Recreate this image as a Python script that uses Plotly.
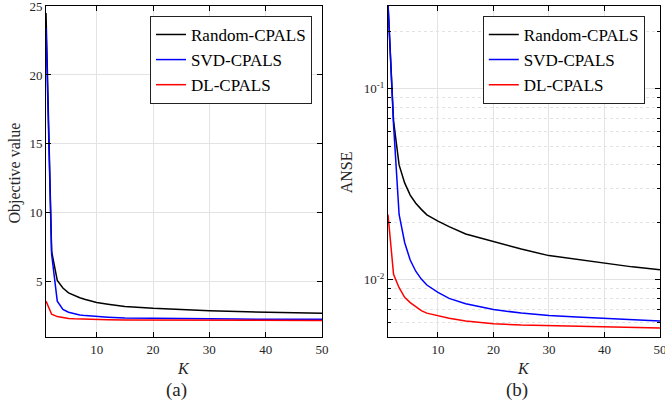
import plotly.graph_objects as go

# ---- data ----
K = [1, 2, 3, 4, 5, 6, 7, 8, 10, 12, 15, 20, 25, 30, 35, 40, 45, 50]

obj_random = [24.5, 7.2, 5.1, 4.55, 4.2, 4.0, 3.85, 3.72, 3.5, 3.38, 3.22, 3.08, 2.98, 2.9, 2.84, 2.79, 2.75, 2.72]
obj_svd    = [23.4, 7.0, 3.6, 3.0, 2.8, 2.68, 2.6, 2.55, 2.48, 2.44, 2.38, 2.35, 2.33, 2.31, 2.3, 2.29, 2.28, 2.28]
obj_dl     = [3.6, 2.65, 2.48, 2.4, 2.35, 2.32, 2.3, 2.28, 2.26, 2.25, 2.24, 2.23, 2.22, 2.22, 2.21, 2.21, 2.2, 2.2]

anse_random = [0.28, 0.068, 0.040, 0.0322, 0.0278, 0.0252, 0.0234, 0.0219, 0.0203, 0.0190, 0.0174, 0.0159, 0.0145, 0.0134, 0.0128, 0.0122, 0.0117, 0.0113]
anse_svd    = [0.28, 0.065, 0.022, 0.0157, 0.0127, 0.0111, 0.0101, 0.0094, 0.0086, 0.0080, 0.0075, 0.0070, 0.0067, 0.0065, 0.0064, 0.0063, 0.0062, 0.0061]
anse_dl     = [0.022, 0.0107, 0.0091, 0.0081, 0.0076, 0.0072, 0.0069, 0.0067, 0.0065, 0.0063, 0.0061, 0.0059, 0.0058, 0.00575, 0.0057, 0.00565, 0.0056, 0.0056]

names = ["Random-CPALS", "SVD-CPALS", "DL-CPALS"]
colors = ["#000000", "#0000ff", "#ff0000"]

x_ticks = [10, 20, 30, 40, 50]
obj_ticks = [5, 10, 15, 20, 25]
log_ticks = [0.01, 0.1]
log_ticktext = ["10<sup>-2</sup>", "10<sup>-1</sup>"]
log_minor = [0.006, 0.007, 0.008, 0.009, 0.02, 0.03, 0.04, 0.05, 0.06, 0.07, 0.08, 0.09, 0.2]

FONT = "Times New Roman, Liberation Serif, serif"
GRID = "#e3e3e3"
TICKC = "#262626"

fig = go.Figure()
for ys, nm, c in zip([obj_random, obj_svd, obj_dl], names, colors):
    fig.add_trace(go.Scatter(x=K, y=ys, name=nm, mode="lines",
                             line=dict(color=c, width=1.5),
                             xaxis="x", yaxis="y", legend="legend"))
for ys, nm, c in zip([anse_random, anse_svd, anse_dl], names, colors):
    fig.add_trace(go.Scatter(x=K, y=ys, name=nm, mode="lines",
                             line=dict(color=c, width=1.5),
                             xaxis="x2", yaxis="y2", legend="legend2"))

axis_common = dict(showline=True, linecolor="black", linewidth=1, mirror="ticks",
                   ticks="inside", ticklen=5, tickcolor="black",
                   showgrid=True, gridcolor=GRID, gridwidth=1, zeroline=False,
                   ticklabeloverflow="allow", automargin=False,
                   tickfont=dict(family=FONT, size=13, color=TICKC))

x_dom1 = [0, 0.4495]
x_dom2 = [0.557, 1]

legend_common = dict(bgcolor="white", bordercolor="#222222", borderwidth=1,
                     font=dict(family=FONT, size=17, color="black"),
                     xanchor="left", yanchor="top", tracegroupgap=0,
                     itemwidth=30)

fig.update_layout(
    width=665, height=411,
    margin=dict(l=46, r=5, t=6, b=74),
    paper_bgcolor="white", plot_bgcolor="white",
    font=dict(family=FONT, color=TICKC),
    xaxis=dict(domain=x_dom1, range=[1, 50], tickvals=x_ticks, anchor="y", **axis_common),
    yaxis=dict(domain=[0, 1], range=[1, 25], tickvals=obj_ticks, anchor="x", **axis_common),
    xaxis2=dict(domain=x_dom2, range=[1, 50], tickvals=x_ticks, anchor="y2", **axis_common),
    yaxis2=dict(domain=[0, 1], type="log", range=[-2.299, -0.566], tickvals=log_ticks,
                ticktext=log_ticktext, anchor="x2",
                minor=dict(tickvals=log_minor, ticks="inside", ticklen=3, tickcolor="black",
                           showgrid=True, gridcolor=GRID, griddash="dot", gridwidth=1),
                **axis_common),
    legend=dict(x=0.1694, y=0.97, **legend_common),
    legend2=dict(x=0.7114, y=0.97, **legend_common),
    showlegend=True,
)

annots = [
    dict(text="Objective value", x=-0.0505, y=0.497, textangle=-90, size=16),
    dict(text="ANSE", x=0.490, y=0.497, textangle=-90, size=16),
    dict(text="<i>K</i>", x=(x_dom1[0] + x_dom1[1]) / 2, y=-0.0937, textangle=0, size=16),
    dict(text="<i>K</i>", x=(x_dom2[0] + x_dom2[1]) / 2, y=-0.0937, textangle=0, size=16),
    dict(text="(a)", x=(x_dom1[0] + x_dom1[1]) / 2 - 0.012, y=-0.160, textangle=0, size=19),
    dict(text="(b)", x=(x_dom2[0] + x_dom2[1]) / 2 - 0.012, y=-0.160, textangle=0, size=19),
]
for a in annots:
    fig.add_annotation(text=a["text"], x=a["x"], y=a["y"], xref="paper", yref="paper",
                       showarrow=False, textangle=a["textangle"],
                       xanchor="center", yanchor="middle",
                       font=dict(family=FONT, size=a["size"], color=TICKC))

fig.write_html("out.html", config={"displayModeBar": False},
               post_script="document.body.style.margin='0px';document.body.style.overflow='hidden';")
